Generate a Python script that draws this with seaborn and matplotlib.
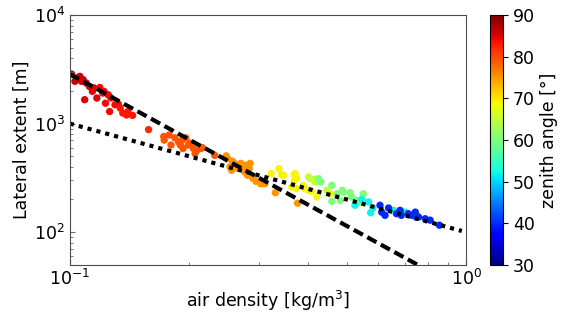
import numpy as np
import pandas as pd
import matplotlib
matplotlib.use("Agg")
import matplotlib.pyplot as plt
import seaborn as sns
from matplotlib.ticker import NullFormatter

# air density [kg/m^3], lateral extent [m], zenith angle [deg]
density = [
    # ~85 deg
    0.101, 0.103, 0.104, 0.106, 0.107, 0.108, 0.109, 0.110, 0.112, 0.114,
    0.115, 0.117, 0.119, 0.121, 0.122, 0.123, 0.125, 0.126, 0.127, 0.130,
    0.1325, 0.134, 0.136, 0.139, 0.140, 0.144, 0.158,
    # ~79 deg
    0.1725, 0.173, 0.178, 0.180, 0.184, 0.188, 0.190, 0.192, 0.193, 0.196,
    0.199, 0.201, 0.205, 0.207, 0.2095, 0.214, 0.216, 0.232,
    # ~75 deg
    0.248, 0.250, 0.2535, 0.256, 0.257, 0.260, 0.263, 0.266, 0.270, 0.273,
    0.276, 0.2775, 0.2805, 0.2835, 0.285, 0.2885, 0.290, 0.295, 0.3025, 0.306,
    0.3105, 0.330, 0.3755,
    # ~69 deg
    0.322, 0.337, 0.342, 0.346, 0.363, 0.368, 0.370, 0.373, 0.369, 0.373,
    0.388, 0.392, 0.400, 0.407, 0.420, 0.454,
    # ~65 deg
    0.400, 0.404, 0.414, 0.416, 0.445,
    # ~60 deg
    0.424, 0.430, 0.458, 0.458, 0.472, 0.481, 0.487, 0.490, 0.509, 0.514,
    0.529, 0.540, 0.550,
    # ~52 deg
    0.524, 0.545, 0.567, 0.574, 0.581, 0.655, 0.701, 0.744,
    # ~40 deg
    0.606, 0.612, 0.624, 0.637, 0.667, 0.681, 0.686, 0.714, 0.729, 0.744,
    0.753, 0.758, 0.788, 0.811, 0.856,
]
extent = [
    2860, 2450, 2630, 2720, 2450, 2540, 1660, 2360, 2200, 1980,
    2130, 1720, 2150, 1910, 1980, 1540, 1840, 1290, 1720, 1490,
    1510, 1390, 1250, 1200, 1290, 1190, 880,
    760, 705, 785, 635, 740, 680, 635, 705, 590, 740,
    635, 660, 590, 530, 570, 590, 600, 510,
    505, 478, 400, 372, 451, 430, 414, 386, 430, 400,
    360, 414, 335, 386, 430, 323, 312, 294, 280, 280,
    280, 231, 185,
    346, 385, 339, 334, 261, 339, 346, 316, 300, 252,
    270, 252, 243, 238, 211, 226,
    323, 311, 307, 290, 243,
    311, 290, 270, 192, 226, 196, 243, 234, 231, 211,
    196, 190, 226,
    177, 200, 190, 151, 167, 159, 153, 138,
    177, 153, 143, 167, 148, 159, 143, 148, 143, 153,
    138, 138, 133, 129, 116,
]
zenith = (
    [86] * 6 + [85] * 6 + [84] * 9 + [83] * 5 + [82]
    + [79] * 18
    + [75] * 23
    + [69] * 16
    + [65] * 5
    + [60] * 13
    + [52] * 8
    + [40] * 15
)

# power-law fits: extent = coeff * density**exponent
steep_coeff, steep_exp = 28.5, -2.0
flat_coeff, flat_exp = 100.0, -1.0

df = pd.DataFrame({"density": density, "extent": extent, "zenith": zenith})

plt.rcParams["font.size"] = 12.5
jet = matplotlib.colormaps["jet"]

fig = plt.figure(figsize=(5.82, 3.12), dpi=100)
ax = fig.add_axes([0.120, 0.151, 0.681, 0.801])
cax = fig.add_axes([0.842, 0.151, 0.0223, 0.801])

sns.scatterplot(data=df, x="density", y="extent", hue="zenith", palette=jet,
                hue_norm=(30, 90), s=28, linewidth=0, legend=False, ax=ax)

xfit = np.array([0.1, 1.0])
ax.plot(xfit, steep_coeff * xfit ** steep_exp, color="black", lw=3,
        linestyle=(0, (2.5, 1.2)))
xflat = np.array([0.1, 0.975])
ax.plot(xflat, flat_coeff * xflat ** flat_exp,
        color="black", lw=3, linestyle=(0, (1, 1.2)))

ax.set_xscale("log")
ax.set_yscale("log")
ax.set_xlim(0.1, 1)
ax.set_ylim(50, 1e4)
ax.xaxis.set_minor_formatter(NullFormatter())
ax.yaxis.set_minor_formatter(NullFormatter())
ax.tick_params(which="both", direction="in", color="0.4")
ax.tick_params(axis="x", pad=3)
for sp in ax.spines.values():
    sp.set_color("0.3")
ax.set_xlabel("air density [kg/m$^3$]", labelpad=0)
ax.set_ylabel("Lateral extent [m]", labelpad=2)

sm = plt.cm.ScalarMappable(cmap=jet, norm=plt.Normalize(30, 90))
cb = fig.colorbar(sm, cax=cax)
cb.set_ticks([30, 40, 50, 60, 70, 80, 90])
cb.set_label("zenith angle [°]")

fig.savefig("out.png", dpi=100)
